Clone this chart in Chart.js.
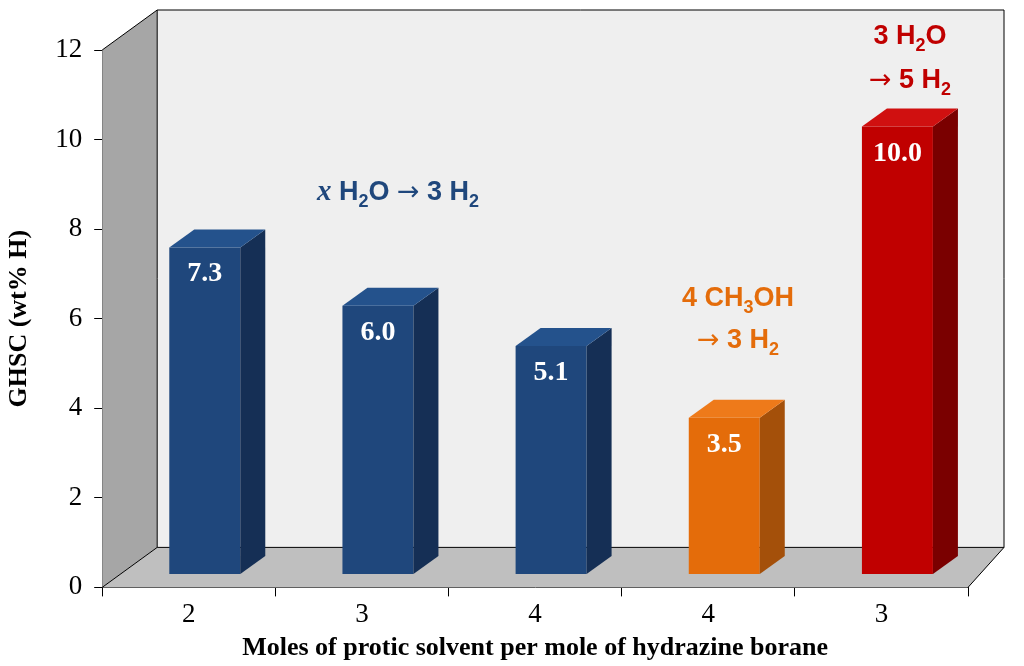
<!DOCTYPE html>
<html><head><meta charset="utf-8">
<script src="https://cdn.jsdelivr.net/npm/chart.js@4/dist/chart.umd.min.js"></script>
<style>html,body{margin:0;background:#fff}#wrap{width:1024px;height:666px}</style>
</head><body><div id="wrap"><canvas id="c"></canvas></div>
<script>
var categories = ['2', '3', '4', '4', '3'];
var values = [7.3, 6.0, 5.1, 3.5, 10.0];
var yTicks = [0, 2, 4, 6, 8, 10, 12];
var frontColors = ['#1f477c', '#1f477c', '#1f477c', '#e46c0a', '#c00000'];
var sideColors = ['#152f55', '#152f55', '#152f55', '#a4500a', '#7a0000'];
var topColors = ['#24528c', '#24528c', '#24528c', '#ee7a1a', '#d01010'];

var DX = 55, DY = 40;     // wall depth
var BX = 16, BY = 13;     // bar shift into the box
var SX = 25, SY = 18;     // bar depth

// draw text pieces: [text, font, dy]
var rich = function(ctx, x, y, parts, color) {
  ctx.save();
  ctx.fillStyle = color;
  ctx.textBaseline = 'alphabetic';
  var w = 0;
  parts.forEach(function(p) { ctx.font = p[1]; w += ctx.measureText(p[0]).width; });
  var cx = x - w / 2;
  parts.forEach(function(p) {
    ctx.font = p[1];
    ctx.fillText(p[0], cx, y + (p[2] || 0));
    cx += ctx.measureText(p[0]).width;
  });
  ctx.restore();
};
var B = 'bold 27px "Liberation Sans", Arial, sans-serif';
var S = 'bold 18px "Liberation Sans", Arial, sans-serif';
var A = '27px "DejaVu Sans", sans-serif';

var box = {
  id: 'box',
  beforeDatasetsDraw: function(chart) {
    var ctx = chart.ctx, a = chart.chartArea;
    ctx.save();
    // left wall
    ctx.fillStyle = '#a6a6a6';
    ctx.beginPath();
    ctx.moveTo(a.left, a.top); ctx.lineTo(a.left + DX, a.top - DY);
    ctx.lineTo(a.left + DX, a.bottom - DY); ctx.lineTo(a.left, a.bottom);
    ctx.closePath(); ctx.fill();
    // back wall
    ctx.fillStyle = '#efefef';
    ctx.fillRect(a.left + DX, a.top - DY, a.right + 36 - a.left - DX, a.bottom - a.top);
    // floor
    ctx.fillStyle = '#bfbfbf';
    ctx.beginPath();
    ctx.moveTo(a.left, a.bottom); ctx.lineTo(a.left + DX, a.bottom - DY);
    ctx.lineTo(a.right + 36, a.bottom - DY); ctx.lineTo(a.right, a.bottom);
    ctx.closePath(); ctx.fill();
    ctx.strokeStyle = '#000'; ctx.lineWidth = 1;
    ctx.beginPath();
    ctx.moveTo(a.left, a.top); ctx.lineTo(a.left + DX, a.top - DY); ctx.lineTo(a.right + 36, a.top - DY);
    ctx.lineTo(a.right + 36, a.bottom - DY); ctx.lineTo(a.right, a.bottom);
    ctx.moveTo(a.left + DX, a.top - DY); ctx.lineTo(a.left + DX, a.bottom - DY); ctx.lineTo(a.right + 36, a.bottom - DY);
    ctx.moveTo(a.left + DX, a.bottom - DY); ctx.lineTo(a.left, a.bottom);
    ctx.stroke();
    ctx.translate(BX, -BY);
  },
  afterDatasetsDraw: function(chart) {
    var ctx = chart.ctx;
    chart.getDatasetMeta(0).data.forEach(function(bar, i) {
      var l = bar.x - bar.width / 2, r = bar.x + bar.width / 2, t = bar.y, b = bar.base;
      ctx.fillStyle = sideColors[i];
      ctx.beginPath();
      ctx.moveTo(r, t); ctx.lineTo(r + SX, t - SY); ctx.lineTo(r + SX, b - SY); ctx.lineTo(r, b);
      ctx.closePath(); ctx.fill();
      ctx.fillStyle = topColors[i];
      ctx.beginPath();
      ctx.moveTo(l, t); ctx.lineTo(l + SX, t - SY); ctx.lineTo(r + SX, t - SY); ctx.lineTo(r, t);
      ctx.closePath(); ctx.fill();
      ctx.fillStyle = '#fff';
      ctx.font = 'bold 28px "Liberation Serif", "Times New Roman", serif';
      ctx.textAlign = 'center';
      ctx.fillText(values[i].toFixed(1), bar.x, t + 34);
    });
    ctx.restore();
    // annotations
    rich(ctx, 398, 200, [['x', 'italic bold 29px "Liberation Serif", serif'], [' H', B], ['2', S, 7], ['O ', B], ['\u2192', A], [' 3 H', B], ['2', S, 7]], '#1f477c');
    rich(ctx, 738, 306, [['4 CH', B], ['3', S, 7], ['OH', B]], '#e46c0a');
    rich(ctx, 738, 348, [['\u2192', A], [' 3 H', B], ['2', S, 7]], '#e46c0a');
    rich(ctx, 910, 44, [['3 H', B], ['2', S, 7], ['O', B]], '#c00000');
    rich(ctx, 910, 88, [['\u2192', A], [' 5 H', B], ['2', S, 7]], '#c00000');
  }
};

var serif = '"Liberation Serif", "Times New Roman", serif';
new Chart(document.getElementById('c'), {
  type: 'bar',
  data: {
    labels: categories,
    datasets: [{
      data: values,
      backgroundColor: frontColors,
      barPercentage: 0.41,
      categoryPercentage: 1
    }]
  },
  plugins: [box],
  options: {
    responsive: true,
    maintainAspectRatio: false,
    animation: false,
    layout: { padding: { top: 50, right: 56, left: 0, bottom: 0 } },
    plugins: { legend: { display: false }, tooltip: { enabled: false } },
    scales: {
      x: {
        offset: true,
        grid: { offset: true, drawOnChartArea: false, color: '#000', tickLength: 9 },
        border: { color: '#000' },
        ticks: { color: '#000', font: { family: serif, size: 27 }, padding: 2 },
        title: { display: true, text: 'Moles of protic solvent per mole of hydrazine borane', color: '#000', font: { family: serif, size: 26, weight: 'bold' }, padding: { top: 0, bottom: 2 } }
      },
      y: {
        min: 0, max: 12,
        afterBuildTicks: function(s) { s.ticks = yTicks.map(function(v) { return { value: v }; }); },
        grid: { drawOnChartArea: false, color: '#000', tickLength: 8 },
        border: { color: '#000' },
        ticks: { color: '#000', font: { family: serif, size: 27 }, padding: 12 },
        title: { display: true, text: 'GHSC (wt% H)', color: '#000', font: { family: serif, size: 26, weight: 'bold' }, padding: { bottom: 8 } }
      }
    }
  }
});
</script></body></html>
